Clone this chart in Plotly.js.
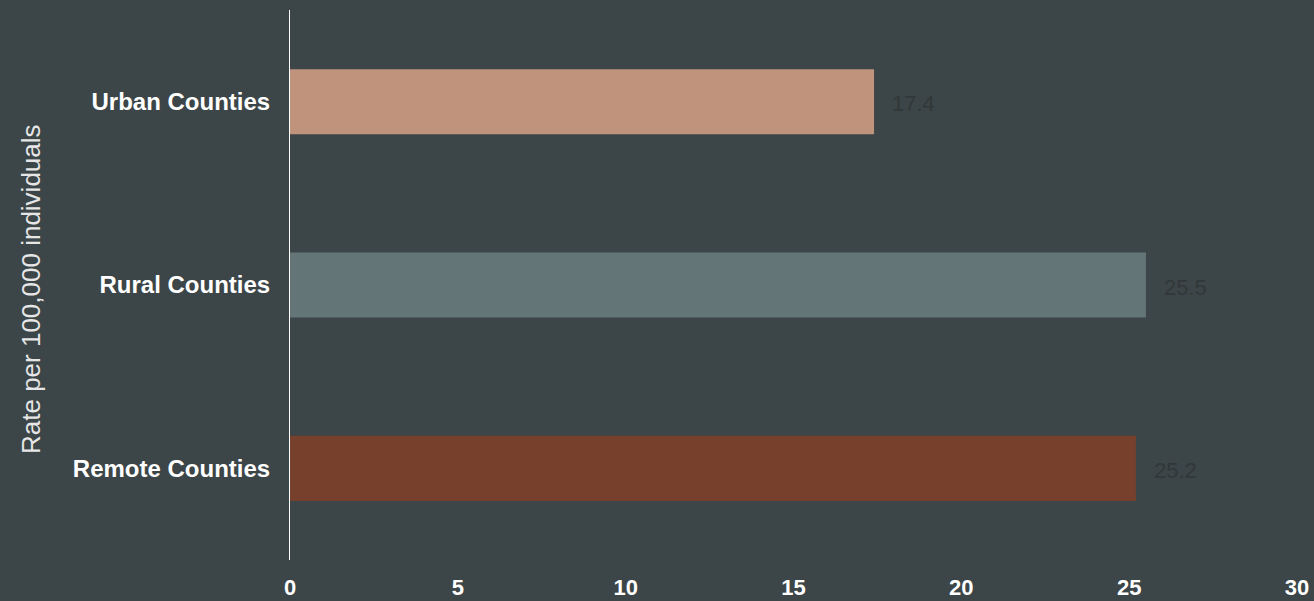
<!DOCTYPE html>
<html>
<head>
<meta charset="utf-8">
<script src="https://cdn.plot.ly/plotly-3.0.1.min.js"></script>
<style>
  html, body { margin: 0; padding: 0; background: #3c4547; }
  #chart { width: 1314px; height: 601px; }
</style>
</head>
<body>
<div id="chart"></div>
<script>
const categories = ["Urban Counties", "Rural Counties", "Remote Counties"];
const rates = [17.4, 25.5, 25.2];
const barColors = ["#bf937c", "#647577", "#76402d"];
const xTicks = [0, 5, 10, 15, 20, 25, 30];
const yTitle = "Rate per 100,000 individuals";

const trace = {
  type: "bar",
  orientation: "h",
  x: rates,
  y: categories,
  marker: { color: barColors },
  hoverinfo: "none"
};

const annotations = rates.map((v, i) => ({
  x: v, y: categories[i], xref: "x", yref: "y",
  text: v.toFixed(1), showarrow: false,
  xanchor: "left", yanchor: "middle", xshift: 16, yshift: -2,
  font: { family: "Liberation Sans, Arial, sans-serif", size: 22, color: "#323839" }
}));

annotations.push({
  xref: "paper", yref: "paper", x: 0, y: 0.5,
  xanchor: "center", yanchor: "middle", xshift: -259, yshift: -4,
  text: yTitle, textangle: -90, showarrow: false,
  font: { family: "Liberation Sans, Arial, sans-serif", size: 26, color: "#e6e6e6" }
});

const layout = {
  width: 1314, height: 601,
  paper_bgcolor: "#3c4547",
  plot_bgcolor: "#3c4547",
  margin: { l: 290, r: 17, t: 10, b: 41 },
  bargap: 0.645,
  showlegend: false,
  xaxis: {
    range: [0, 30],
    tickvals: xTicks,
    ticktext: xTicks.map(String),
    showgrid: false, zeroline: false, showline: false,
    ticks: "",
    ticklabelstandoff: 12,
    tickfont: { family: "Liberation Sans, Arial, sans-serif", size: 22, color: "#ffffff", weight: "bold" }
  },
  yaxis: {
    autorange: "reversed",
    showgrid: false, zeroline: false,
    showline: true, linecolor: "#ffffff", linewidth: 1,
    ticks: "",
    ticklabelstandoff: 14,
    tickfont: { family: "Liberation Sans, Arial, sans-serif", size: 24, color: "#ffffff", weight: "bold" }
  },
  annotations: annotations
};

Plotly.newPlot("chart", [trace], layout, { displayModeBar: false, staticPlot: true });
</script>
</body>
</html>
